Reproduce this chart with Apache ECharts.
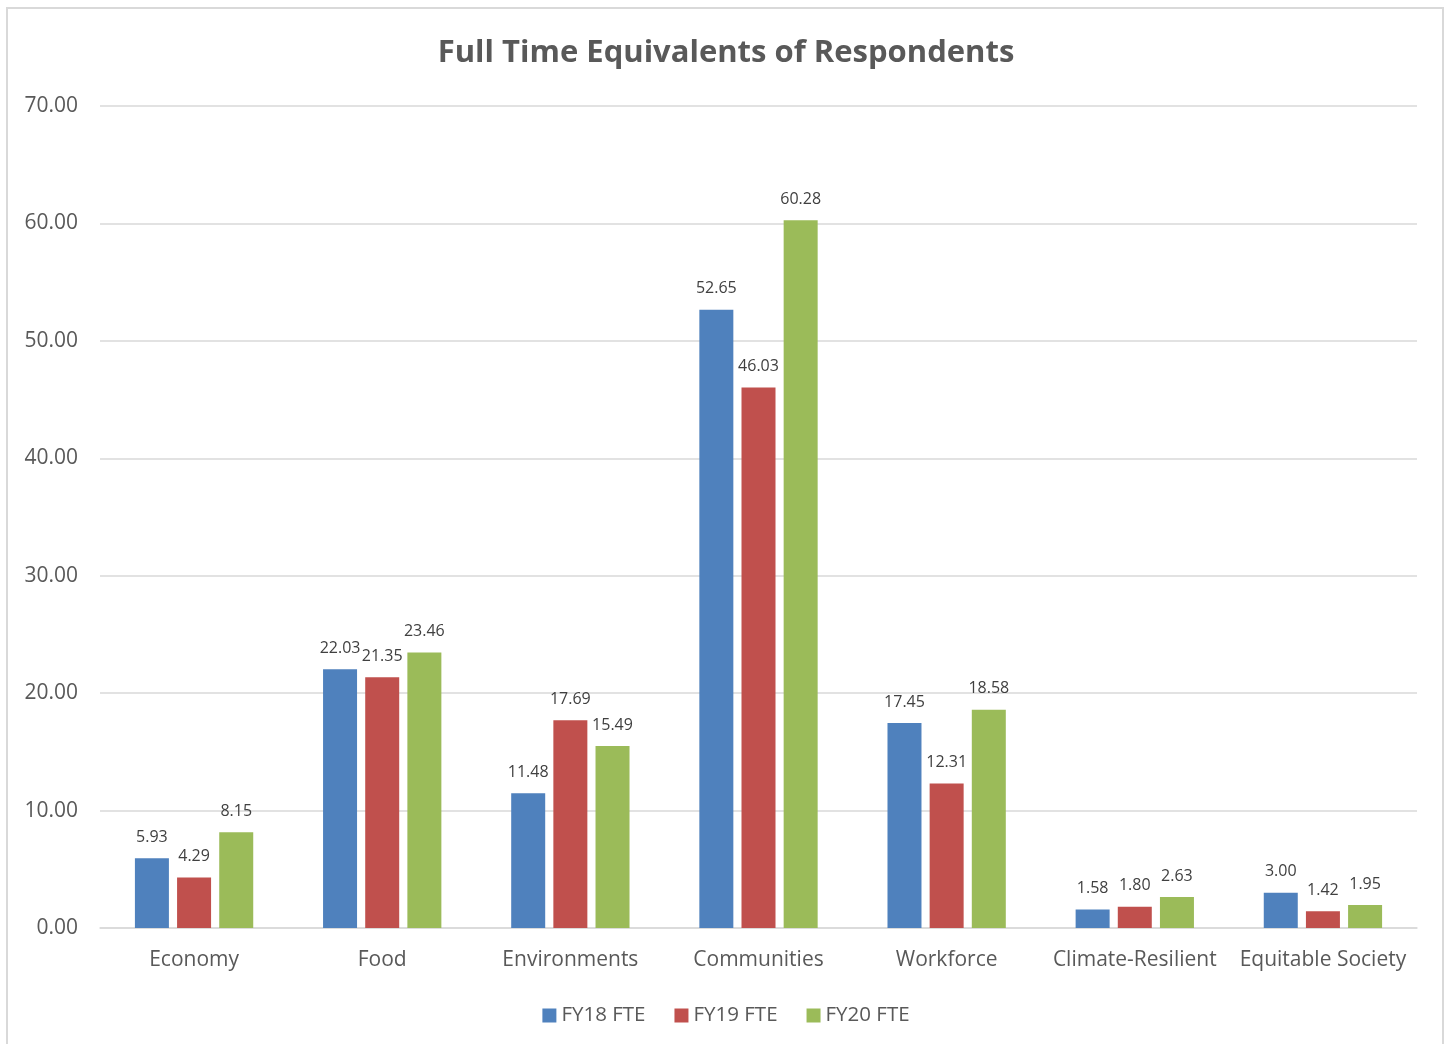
<!DOCTYPE html>
<html>
<head>
<meta charset="utf-8">
<script src="https://cdn.jsdelivr.net/npm/echarts@6/dist/echarts.min.js"></script>
<style>
  html, body { margin: 0; padding: 0; background: #fff; }
  #frame { position: absolute; left: 6px; top: 7px; width: 1438px; height: 1050px; border: 2px solid #d9d9d9; box-sizing: border-box; }
  #chart { position: absolute; left: 0; top: 0; width: 1452px; height: 1044px; }
</style>
</head>
<body>
<div id="frame"></div>
<div id="chart"></div>
<script>
// 数据
var categories = ['Economy', 'Food', 'Environments', 'Communities', 'Workforce', 'Climate-Resilient', 'Equitable Society'];
var fy18 = [5.93, 22.03, 11.48, 52.65, 17.45, 1.58, 3.00];
var fy19 = [4.29, 21.35, 17.69, 46.03, 12.31, 1.80, 1.42];
var fy20 = [8.15, 23.46, 15.49, 60.28, 18.58, 2.63, 1.95];
var seriesNames = ['FY18 FTE', 'FY19 FTE', 'FY20 FTE'];
var colors = ['#4F81BD', '#C0504D', '#9BBB59'];

var font = '"Open Sans", sans-serif';
var chart = echarts.init(document.getElementById('chart'));

function makeSeries(name, data, color) {
    return {
        name: name,
        type: 'bar',
        data: data,
        barWidth: 34,
        barGap: '24%',
        itemStyle: { color: color },
        label: {
            show: true,
            position: 'top',
            distance: 13,
            color: '#404040',
            fontSize: 16,
            fontFamily: font,
            formatter: function (p) { return p.value.toFixed(2); }
        }
    };
}

var option = {
    animation: false,
    color: colors,
    title: {
        text: 'Full Time Equivalents of Respondents',
        left: 'center',
        top: 33,
        textStyle: { color: '#595959', fontSize: 31, fontWeight: 'bold', fontFamily: font }
    },
    legend: {
        bottom: 13,
        left: 'center',
        itemWidth: 14,
        itemHeight: 14,
        itemGap: 29,
        icon: 'rect',
        textStyle: { color: '#595959', fontSize: 20.5, fontFamily: font },
        data: seriesNames
    },
    grid: { left: 100, right: 35, top: 106, bottom: 116, containLabel: false },
    xAxis: {
        type: 'category',
        data: categories,
        axisTick: { show: false },
        axisLine: { lineStyle: { color: '#d9d9d9', width: 1.5 } },
        axisLabel: { color: '#595959', fontSize: 21, fontFamily: font, margin: 22, interval: 0 }
    },
    yAxis: {
        type: 'value',
        min: 0,
        max: 70,
        interval: 10,
        axisLabel: {
            color: '#595959', fontSize: 21, fontFamily: font, margin: 22,
            formatter: function (v) { return v.toFixed(2); }
        },
        splitLine: { lineStyle: { color: '#d9d9d9', width: 1.5 } },
        axisLine: { show: false },
        axisTick: { show: false }
    },
    series: [
        makeSeries(seriesNames[0], fy18, colors[0]),
        makeSeries(seriesNames[1], fy19, colors[1]),
        makeSeries(seriesNames[2], fy20, colors[2])
    ]
};

chart.setOption(option);
</script>
</body>
</html>
